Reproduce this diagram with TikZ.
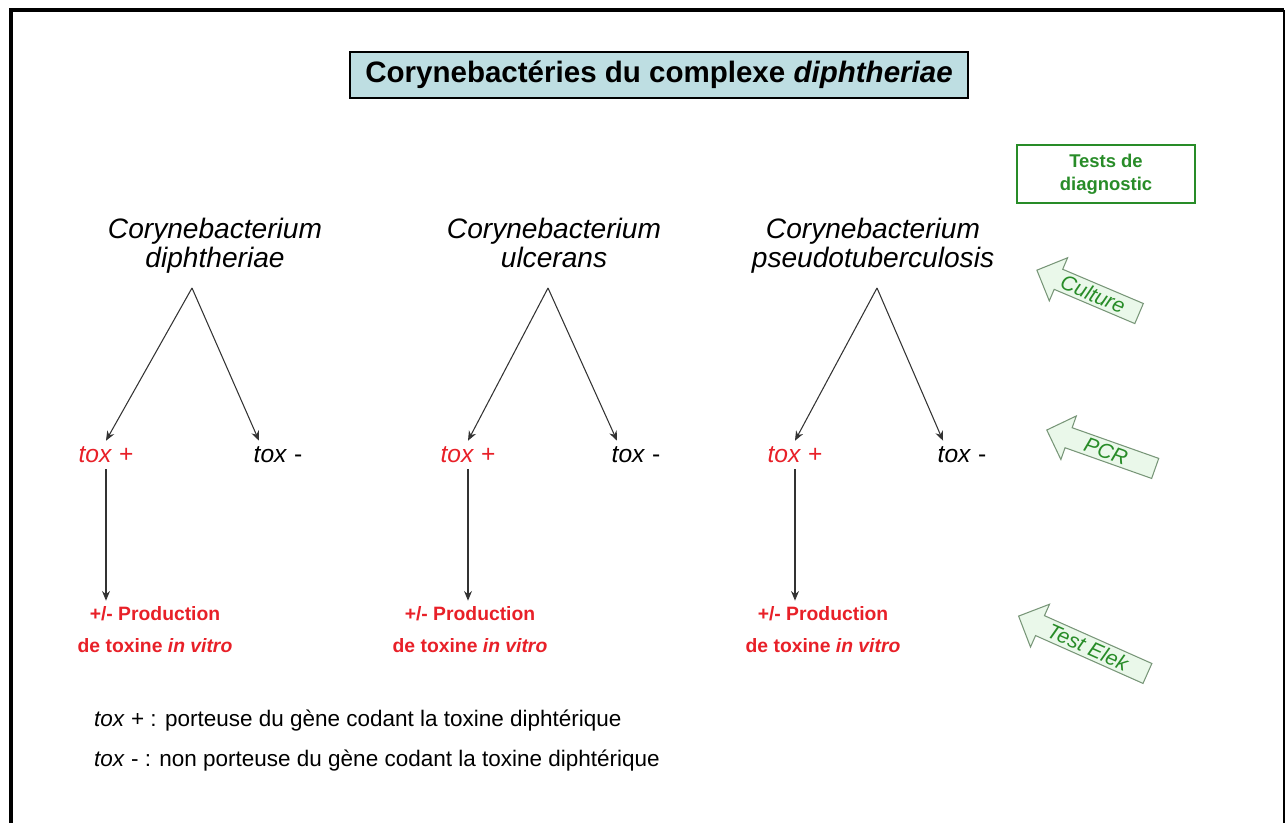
\documentclass[tikz,border=0pt]{standalone}
\usepackage{fontspec}
\setmainfont{Liberation Sans}
\usepackage{tikz}
\usetikzlibrary{arrows.meta, shapes.arrows}
\definecolor{titleblue}{RGB}{190,222,226}
\definecolor{toxred}{RGB}{232,32,40}
\definecolor{diaggreen}{RGB}{40,140,40}
\definecolor{arrowfill}{RGB}{234,248,234}
\definecolor{arrowline}{RGB}{120,150,120}
\definecolor{gray20}{gray}{0.2}

\begin{document}
\begin{tikzpicture}[
    species/.style={align=center, font=\itshape\fontsize{16}{17}\selectfont},
    toxplus/.style={toxred, font=\fontsize{14}{16}\selectfont},
    toxminus/.style={black, font=\fontsize{14}{16}\selectfont},
    prodtext/.style={toxred, align=center, font=\bfseries\fontsize{11}{18.2}\selectfont},
    branch/.style={gray20, line width=0.6pt, -{Stealth[length=5.5pt, width=4.5pt]}},
    testarrow/.style={single arrow, draw=arrowline, fill=arrowfill, line width=0.6pt,
      single arrow head extend=0.25cm, minimum width=0.9cm, inner ysep=1.5pt, inner xsep=2pt,
      text=diaggreen, font=\itshape\fontsize{12}{14}\selectfont, shape border rotate=180}
  ]

  \useasboundingbox (0, 0) rectangle (25.72, 16.46);

  % frame
  \draw[black, line width=2.3pt] (0.22, 0) -- (0.22, 16.26) -- (25.68, 16.26);
  \draw[black, line width=0.9pt] (25.68, 16.26) -- (25.68, 0);

  \node[draw=black, fill=titleblue, line width=0.8pt, minimum width=12.36cm, minimum height=0.92cm,
    font=\bfseries\fontsize{16.8}{18}\selectfont] (title) at (13.18, 14.96)
    {Corynebactéries du complexe \textit{diphtheriae}};

  \node[draw=diaggreen, line width=0.8pt, minimum width=3.56cm, minimum height=1.16cm, align=center,
    text=diaggreen, font=\bfseries\fontsize{10.5}{13}\selectfont] (tests) at (22.12, 12.98)
    {Tests de\\diagnostic};

  \node[species] (specA) at (4.3, 11.52) {\strut Corynebacterium\\diphtheriae\strut};
  \node[species] (specB) at (11.08, 11.52) {\strut Corynebacterium\\ulcerans\strut};
  \node[species] (specC) at (17.46, 11.52) {\strut Corynebacterium\\pseudotuberculosis\strut};

  \foreach \i/\ax/\px/\mx/\dx in {A/3.84/2.12/5.56/3.1, B/10.96/9.36/12.72/9.4, C/17.54/15.9/19.24/16.46} {
    \coordinate (apex\i) at (\ax, 10.7);
    \node[toxplus] (toxp\i) at (\px, 7.36) {\textit{tox} +};
    \node[toxminus] (toxm\i) at (\mx, 7.36) {\textit{tox} -};
    \node[prodtext] (prod\i) at (\dx, 3.86) {+/- Production\\de toxine \textit{in vitro}};
    \draw[branch] (apex\i) -- (toxp\i.north);
    \draw[branch] (apex\i) -- ([xshift=-0.38cm]toxm\i.north);
    \draw[branch] (toxp\i.south) -- (toxp\i.south |- prod\i.north);
  }

  % diagnostic tests
  \node[testarrow, minimum height=2.22cm, rotate=-23] (culture) at (21.86, 10.58) {Culture};
  \node[testarrow, minimum height=2.3cm, rotate=-19.5] (pcr) at (22.12, 7.44) {PCR};
  \node[testarrow, minimum height=2.82cm, rotate=-24] (elek) at (21.76, 3.52) {Test Elek};

  \node[anchor=base west, font=\fontsize{12.8}{15}\selectfont] (legplus) at (1.76, 1.92)
    {\textit{tox} + : porteuse du gène codant la toxine diphtérique};
  \node[anchor=base west, font=\fontsize{12.8}{15}\selectfont] (legminus) at (1.76, 1.12)
    {\textit{tox} - : non porteuse du gène codant la toxine diphtérique};

\end{tikzpicture}
\end{document}
